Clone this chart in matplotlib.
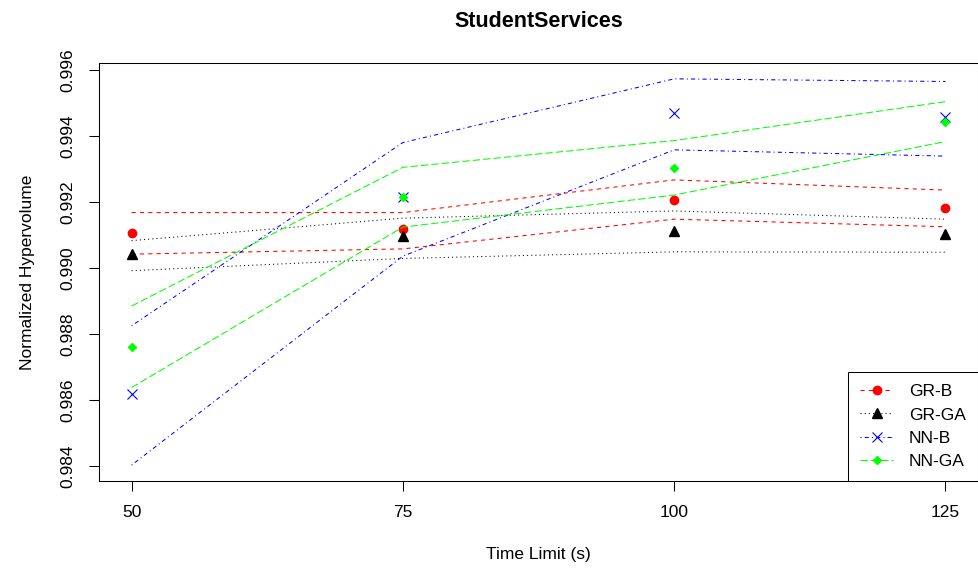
import matplotlib
matplotlib.use('Agg')
import matplotlib.pyplot as plt
import numpy as np

plt.rcParams['font.family'] = ['Liberation Sans', 'DejaVu Sans']

# time limits (s)
time_limits = [50, 75, 100, 125]

# mean normalized hypervolume per method
gr_b = [0.99106, 0.99118, 0.99206, 0.99183]
gr_ga = [0.99042, 0.99097, 0.99113, 0.99103]
nn_b = [0.98618, 0.99215, 0.99470, 0.99458]
nn_ga = [0.98762, 0.99215, 0.99304, 0.99442]

# upper / lower bounds drawn as lines
gr_b_hi = [0.99168, 0.99168, 0.99267, 0.99236]
gr_b_lo = [0.99042, 0.99058, 0.99148, 0.99125]
gr_ga_hi = [0.99083, 0.99151, 0.99173, 0.99148]
gr_ga_lo = [0.98992, 0.99029, 0.99049, 0.99048]
nn_b_hi = [0.98825, 0.99380, 0.99573, 0.99565]
nn_b_lo = [0.98403, 0.99036, 0.99358, 0.99339]
nn_ga_hi = [0.98885, 0.99305, 0.99386, 0.99504]
nn_ga_lo = [0.98638, 0.99124, 0.99221, 0.99383]

y_ticks = [0.984, 0.986, 0.988, 0.990, 0.992, 0.994, 0.996]

fig = plt.figure(figsize=(9.79, 5.68), dpi=100)
ax = fig.add_axes([99 / 979, 87 / 568, 879 / 979, 418 / 568])

lw = 0.75
series = [
    ('GR-B', gr_b, gr_b_hi, gr_b_lo, '#ff0000', (0, (4, 4)), 'o', 6.0, 1.0),
    ('GR-GA', gr_ga, gr_ga_hi, gr_ga_lo, '#000000', (0, (1, 3)), '^', 6.5, 1.0),
    ('NN-B', nn_b, nn_b_hi, nn_b_lo, '#0000ff', (0, (1, 3, 4, 3)), 'x', 7.0, 0.8),
    ('NN-GA', nn_ga, nn_ga_hi, nn_ga_lo, '#00ff00', (0, (7, 3)), 'D', 4.0, 1.0),
]

x = np.array(time_limits)
handles = []
for name, mean, hi, lo, col, ls, mk, ms, mew in series:
    ax.plot(x, hi, color=col, linestyle=ls, linewidth=lw)
    ax.plot(x, lo, color=col, linestyle=ls, linewidth=lw)
    ax.plot(x, mean, linestyle='none', marker=mk, markersize=ms,
            color=col, markeredgewidth=mew)
    # legend handle: line with marker, like R's legend(lty=, pch=)
    h, = ax.plot([], [], color=col, linestyle=ls, linewidth=lw,
                 marker=mk, markersize=ms, markeredgewidth=mew, label=name)
    handles.append(h)

ax.set_xlim(47, 128)
ax.set_ylim(0.98355, 0.99621)
ax.set_xticks(time_limits)
ax.set_xticklabels([str(t) for t in time_limits])
ax.set_yticks(y_ticks)
ax.set_yticklabels(['%.3f' % v for v in y_ticks], rotation=90, va='center')

ax.tick_params(direction='out', length=7, width=0.75, labelsize=12.5, pad=10)
for s in ax.spines.values():
    s.set_linewidth(0.75)
    s.set_color('black')

ax.set_xlabel('Time Limit (s)', fontsize=12.5, labelpad=20)
ax.set_ylabel('Normalized Hypervolume', fontsize=12.5, labelpad=18)
ax.set_title('StudentServices', fontsize=15.5, fontweight='bold', pad=26)

leg = ax.legend(handles=handles, loc='lower right', bbox_to_anchor=(1, 0),
                borderaxespad=0, fancybox=False, edgecolor='black',
                framealpha=1, fontsize=12.5, handlelength=1.9,
                handletextpad=0.9, labelspacing=0.46, borderpad=0.7)
leg.get_frame().set_linewidth(0.75)

fig.savefig('out.png', dpi=100, facecolor='white')
